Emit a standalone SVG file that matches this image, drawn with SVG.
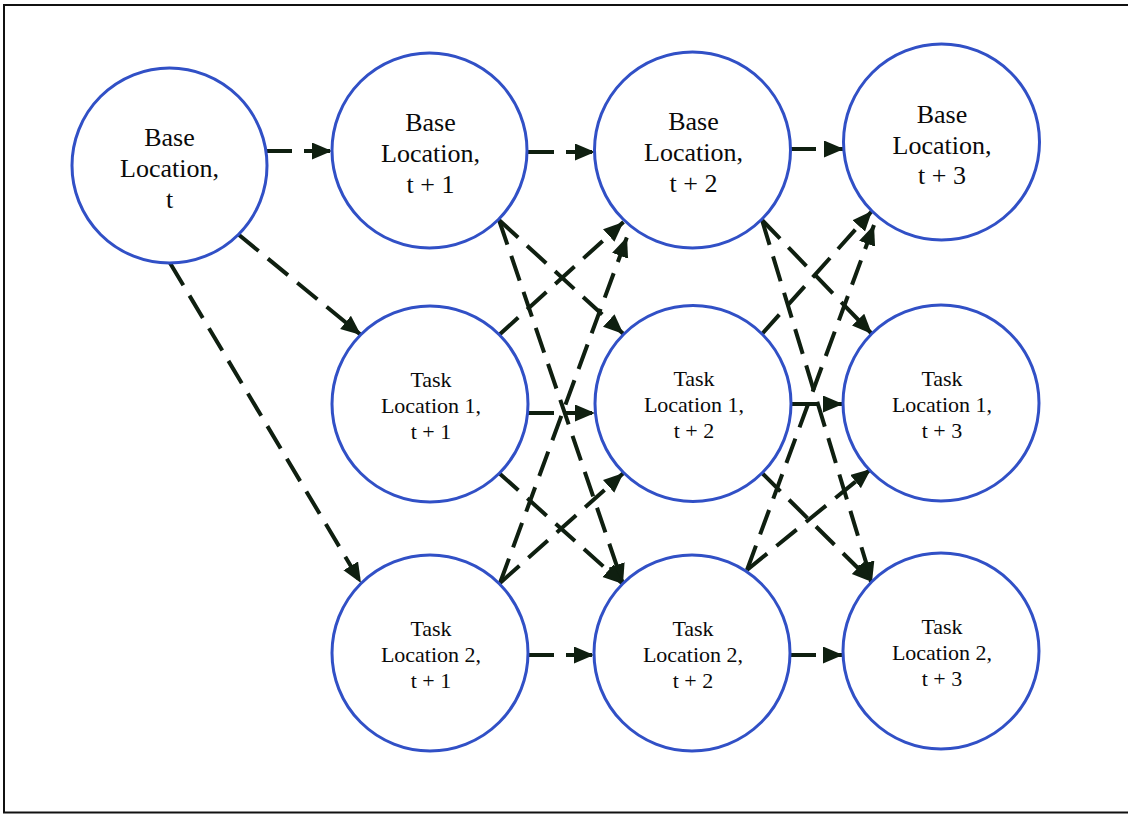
<svg xmlns="http://www.w3.org/2000/svg" width="1128" height="814" viewBox="0 0 1128 814">
  <defs>
    <marker id="arr" markerUnits="userSpaceOnUse" markerWidth="22" markerHeight="18" refX="20" refY="8.5" orient="auto">
      <path d="M0,0 L20,8.5 L0,17 Z" fill="#0f1f10"/>
    </marker>
    <style>
      .node circle { fill: #ffffff; stroke: #3150c6; stroke-width: 3; }
      .base text { font-family: "Liberation Serif", "Times New Roman", serif; font-size: 26px; fill: #0a0a0a; text-anchor: middle; }
      .task text { font-family: "Liberation Serif", "Times New Roman", serif; font-size: 22px; fill: #0a0a0a; text-anchor: middle; }
      .edge { fill: none; stroke: #0f1f10; stroke-width: 4; stroke-dasharray: 26 12; marker-end: url(#arr); }
    </style>
  </defs>
  <rect x="0" y="0" width="1128" height="814" fill="#ffffff"/>
  <rect x="4" y="5" width="1135" height="807.5" fill="none" stroke="#111" stroke-width="2"/>

  <g id="connectors">
    <!-- horizontals -->
    <line class="edge" x1="266" y1="151" x2="332" y2="151"/>
    <line class="edge" x1="528" y1="152" x2="595" y2="152"/>
    <line class="edge" x1="790" y1="149" x2="844" y2="149"/>
    <line class="edge" x1="528" y1="413" x2="595" y2="413"/>
    <line class="edge" x1="791" y1="404" x2="843" y2="404"/>
    <line class="edge" x1="528" y1="655" x2="594" y2="655"/>
    <line class="edge" x1="790" y1="655" x2="843" y2="655"/>
    <!-- from Base t -->
    <line class="edge" x1="238.5" y1="234.5" x2="361" y2="335"/>
    <line class="edge" x1="170" y1="263" x2="361" y2="583"/>
    <!-- column 1 to column 2 -->
    <line class="edge" x1="499" y1="220" x2="623.5" y2="334"/>
    <line class="edge" x1="499" y1="220" x2="623" y2="584"/>
    <line class="edge" x1="499" y1="335" x2="623.5" y2="222"/>
    <line class="edge" x1="499" y1="473" x2="623" y2="584"/>
    <line class="edge" x1="500" y1="583" x2="627" y2="237"/>
    <line class="edge" x1="500" y1="583" x2="623.5" y2="473"/>
    <!-- column 2 to column 3 -->
    <line class="edge" x1="762" y1="220" x2="872" y2="334"/>
    <line class="edge" x1="762" y1="220" x2="872" y2="582"/>
    <line class="edge" x1="762" y1="334" x2="872" y2="211"/>
    <line class="edge" x1="762" y1="473" x2="872" y2="582"/>
    <line class="edge" x1="747" y1="570" x2="874" y2="225"/>
    <line class="edge" x1="747" y1="570" x2="871" y2="469"/>
  </g>

  <g id="base-t" class="node base">
    <circle cx="169.5" cy="165.5" r="97.5"/>
    <text x="169.5" y="146">Base</text>
    <text x="169.5" y="177">Location,</text>
    <text x="169.5" y="208">t</text>
  </g>
  <g id="base-t1" class="node base">
    <circle cx="429.5" cy="150.5" r="97.5"/>
    <text x="430.5" y="131">Base</text>
    <text x="430.5" y="162">Location,</text>
    <text x="430.5" y="193">t + 1</text>
  </g>
  <g id="base-t2" class="node base">
    <circle cx="692.5" cy="150" r="98"/>
    <text x="693.5" y="130">Base</text>
    <text x="693.5" y="161">Location,</text>
    <text x="693.5" y="192">t + 2</text>
  </g>
  <g id="base-t3" class="node base">
    <circle cx="941.5" cy="142" r="98"/>
    <text x="942" y="123">Base</text>
    <text x="942" y="154">Location,</text>
    <text x="942" y="184">t + 3</text>
  </g>

  <g id="task1-t1" class="node task">
    <circle cx="430" cy="404" r="98"/>
    <text x="431" y="387">Task</text>
    <text x="431" y="413">Location 1,</text>
    <text x="431" y="439">t + 1</text>
  </g>
  <g id="task1-t2" class="node task">
    <circle cx="693" cy="403.5" r="98"/>
    <text x="694" y="386">Task</text>
    <text x="694" y="412">Location 1,</text>
    <text x="694" y="438">t + 2</text>
  </g>
  <g id="task1-t3" class="node task">
    <circle cx="941" cy="403" r="98"/>
    <text x="942" y="386">Task</text>
    <text x="942" y="412">Location 1,</text>
    <text x="942" y="438">t + 3</text>
  </g>

  <g id="task2-t1" class="node task">
    <circle cx="430" cy="653" r="98"/>
    <text x="431" y="636">Task</text>
    <text x="431" y="662">Location 2,</text>
    <text x="431" y="688">t + 1</text>
  </g>
  <g id="task2-t2" class="node task">
    <circle cx="692" cy="653" r="98"/>
    <text x="693" y="636">Task</text>
    <text x="693" y="662">Location 2,</text>
    <text x="693" y="688">t + 2</text>
  </g>
  <g id="task2-t3" class="node task">
    <circle cx="941" cy="651" r="98"/>
    <text x="942" y="634">Task</text>
    <text x="942" y="660">Location 2,</text>
    <text x="942" y="686">t + 3</text>
  </g>
</svg>
